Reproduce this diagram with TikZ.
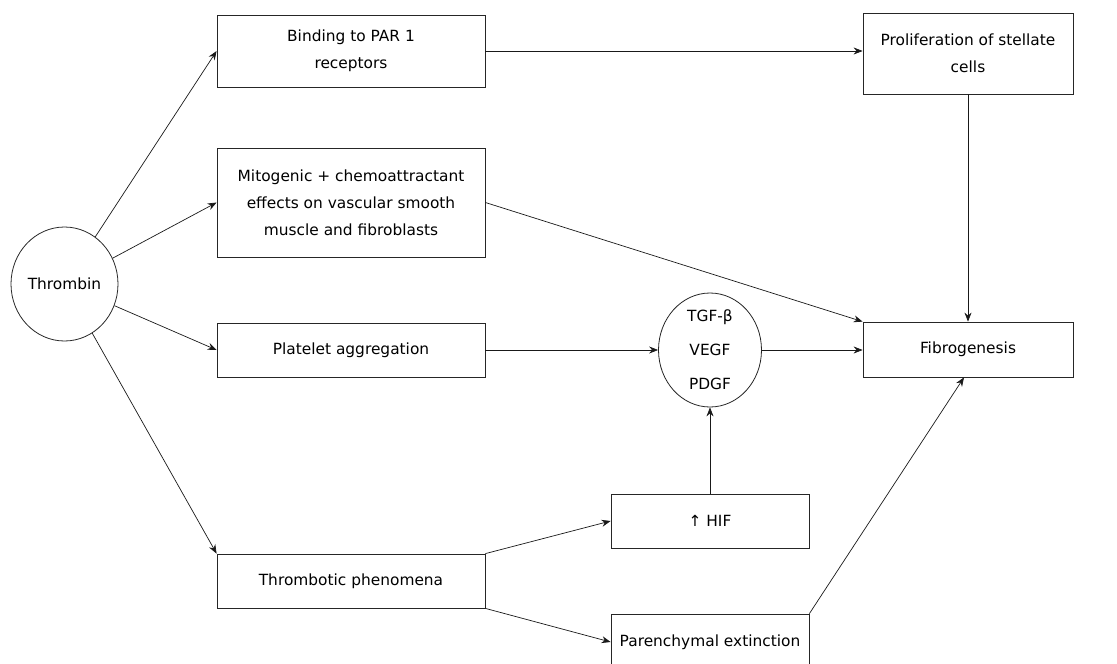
\documentclass[tikz,border=0pt]{standalone}
\usepackage{fontspec}
\setmainfont{DejaVu Sans}
\usetikzlibrary{arrows.meta,shapes.geometric}
\begin{document}
\begin{tikzpicture}[x=1pt,y=-1pt,
  every node/.style={font=\fontsize{15.4}{27}\selectfont, align=center, inner sep=0pt},
  box/.style={draw=black!85, line width=0.8pt, rectangle},
  ell/.style={draw=black!85, line width=0.8pt, ellipse},
  arr/.style={draw=black!90, line width=0.7pt, -{Stealth[length=9pt,width=7pt,inset=3pt]}}]
\useasboundingbox (0,0) rectangle (1117,664);
\node[ell, minimum width=107, minimum height=114] (thr) at (64.5,284) {Thrombin};
\node[box, minimum width=268, minimum height=72] (bind) at (351,51) {Binding to PAR 1\\receptors};
\node[box, minimum width=268, minimum height=109] (mit) at (351,202.5) {Mitogenic + chemoattractant\\effects on vascular smooth\\muscle and fibroblasts};
\node[box, minimum width=268, minimum height=54] (plat) at (351,350) {Platelet aggregation};
\node[box, minimum width=268, minimum height=54] (thp) at (351,581) {Thrombotic phenomena};
\node[box, minimum width=210, minimum height=81] (prol) at (968,53.5) {Proliferation of stellate\\cells};
\node[box, minimum width=210, minimum height=55] (fib) at (968,349.5) {Fibrogenesis};
\node[ell, minimum width=103, minimum height=114, font=\fontsize{15.4}{34}\selectfont] (tgf) at (710,350) {TGF-β\\VEGF\\PDGF};
\node[box, minimum width=198, minimum height=54] (hif) at (710,521) {↑ HIF};
\node[box, minimum width=198, minimum height=56] (par) at (710,642) {Parenchymal extinction};
\draw[arr] (thr) -- (bind.west);
\draw[arr] (thr) -- (mit.west);
\draw[arr] (thr) -- (plat.west);
\draw[arr] (thr) -- (thp.north west);
\draw[arr] (bind.east) -- (bind.east -| prol.west);
\draw[arr] (mit.east) -- (fib.north west);
\draw[arr] (prol.south) -- (fib.north);
\draw[arr] (plat.east) -- (plat.east -| tgf.west);
\draw[arr] (tgf.east) -- (tgf.east -| fib.west);
\draw[arr] (hif.north) -- (tgf.south);
\draw[arr] (thp.north east) -- (hif.west);
\draw[arr] (thp.south east) -- (par.west);
\draw[arr] (par.north east) -- ([xshift=-4pt]fib.south);
\end{tikzpicture}
\end{document}
